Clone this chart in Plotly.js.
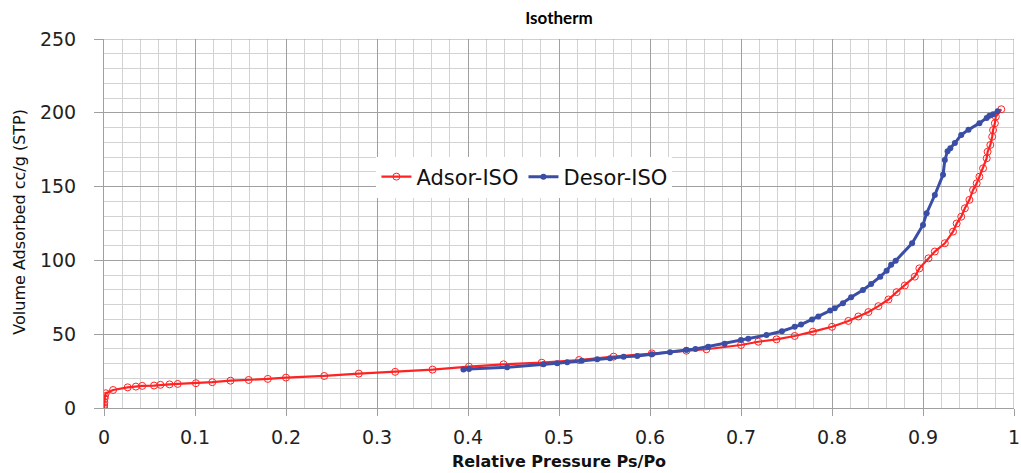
<!DOCTYPE html>
<html>
<head>
<meta charset="utf-8">
<script src="https://cdn.plot.ly/plotly-3.0.1.min.js"></script>
<style>html,body{margin:0;padding:0;background:#fff;}#chart{width:1021px;height:473px;}</style>
</head>
<body>
<div id="chart"></div>
<script>
// Adsorption branch (Relative pressure, volume adsorbed)
const adsP = [0.0001,0.0002,0.0004,0.0007,0.001,0.002,0.01,0.026,0.035,0.042,0.055,0.062,0.072,0.081,0.101,0.119,0.139,0.159,0.18,0.2,0.242,0.28,0.32,0.361,0.401,0.439,0.481,0.522,0.56,0.602,0.64,0.662,0.70,0.719,0.739,0.759,0.779,0.80,0.818,0.829,0.84,0.851,0.862,0.871,0.880,0.891,0.896,0.906,0.913,0.924,0.933,0.937,0.942,0.946,0.951,0.955,0.959,0.962,0.966,0.970,0.971,0.974,0.976,0.977,0.979,0.980,0.986];
const adsV = [0,2,4,6.5,8,10,12.2,14,14.5,15,15.2,15.7,16,16.3,16.8,17.5,18.5,19,19.7,20.6,21.7,23.3,24.5,26,28,29.6,30.7,32.5,34.8,37,38.8,39.8,42.7,44.9,46.5,48.8,51.7,55,59,62,65,69,73.5,78.5,83,89,94.6,101.4,106,111.6,119.5,125,129.6,135.3,141,147.7,152.2,156.7,162.4,169.2,173.6,178.2,183.8,188.3,192.9,197.4,202.4];
// Desorption branch
const desP = [0.982,0.977,0.973,0.970,0.962,0.950,0.942,0.935,0.930,0.927,0.924,0.922,0.913,0.904,0.900,0.888,0.870,0.865,0.860,0.853,0.843,0.834,0.821,0.812,0.803,0.798,0.785,0.778,0.766,0.759,0.745,0.728,0.708,0.700,0.682,0.664,0.650,0.640,0.622,0.602,0.586,0.571,0.556,0.542,0.525,0.509,0.498,0.483,0.443,0.401,0.395];
const desV = [201,199,198,196.5,193,188.6,185,179.5,176,174,168,158,144.3,132,124,111.6,99.8,97,93,89,84,80,75,71,67.5,66,62,60,56.5,55,52,49.5,47,46,43.5,41.5,40,39.3,37.7,36.4,35.2,34.8,33.7,33,32,31,30.3,29.6,27.6,26.5,26];

const FONT = '"DejaVu Sans", sans-serif';
const tickFont = {family: FONT, size: 19, color: '#222'};

const traces = [
  {x: adsP, y: adsV, name: 'Adsor-ISO', type: 'scatter', mode: 'lines+markers',
   line: {color: '#ff2222', width: 2.2},
   marker: {symbol: 'circle-open', size: 7, color: '#ff2222', line: {width: 1, color: '#ff2222'}}},
  {x: desP, y: desV, name: 'Desor-ISO', type: 'scatter', mode: 'lines+markers',
   line: {color: '#3b4ea6', width: 3},
   marker: {symbol: 'circle', size: 6, color: '#3b4ea6'}}
];

const layout = {
  width: 1021, height: 473,
  margin: {l: 104, r: 7, t: 39, b: 65},
  paper_bgcolor: '#fff', plot_bgcolor: '#fff',
  title: {text: 'Isotherm', x: 0.5, xref: 'paper', y: 0.962, yanchor: 'middle',
          font: {family: 'Lato, sans-serif', size: 17, color: '#000', weight: 'bold'}},
  showlegend: true,
  legend: {orientation: 'h', x: 0.462, y: 0.626, xanchor: 'center', yanchor: 'middle',
           bgcolor: '#ffffff', font: {family: FONT, size: 21, color: '#111'}},
  xaxis: {
    range: [0, 1], dtick: 0.1, tick0: 0, tickformat: '~g',
    showgrid: true, gridcolor: '#a0a0a0', gridwidth: 1,
    minor: {dtick: 0.02, showgrid: true, gridcolor: '#d2d2d2', gridwidth: 1},
    ticks: 'outside', ticklen: 7, tickcolor: '#a0a0a0',
    showline: true, linecolor: '#a0a0a0', linewidth: 1,
    zeroline: false, tickfont: tickFont, ticklabelstandoff: 5,
    title: {text: 'Relative Pressure Ps/Po', standoff: 9,
            font: {family: FONT, size: 16, color: '#111', weight: 'bold'}}
  },
  yaxis: {
    range: [0, 250], dtick: 50,
    showgrid: true, gridcolor: '#a0a0a0', gridwidth: 1,
    minor: {dtick: 10, showgrid: true, gridcolor: '#d2d2d2', gridwidth: 1},
    ticks: 'outside', ticklen: 9, tickcolor: '#a0a0a0',
    showline: true, linecolor: '#a0a0a0', linewidth: 1,
    zeroline: false, tickfont: tickFont, ticklabelstandoff: 14
  },
  annotations: [
    {text: 'Volume Adsorbed cc/g (STP)', textangle: -90, showarrow: false,
     xref: 'paper', yref: 'paper', x: -0.0923, y: 0.505, xanchor: 'center', yanchor: 'middle',
     font: {family: FONT, size: 16, color: '#111'}}
  ],
  shapes: [
    {type: 'line', xref: 'x', yref: 'paper', x0: 1, x1: 1, y0: 0, y1: 1, line: {color: '#a0a0a0', width: 1}},
    {type: 'line', xref: 'paper', yref: 'y', x0: 0, x1: 1, y0: 250, y1: 250, line: {color: '#a0a0a0', width: 1}}
  ],
  hovermode: false
};

Plotly.newPlot('chart', traces, layout, {displayModeBar: false, staticPlot: true});
</script>
</body>
</html>
